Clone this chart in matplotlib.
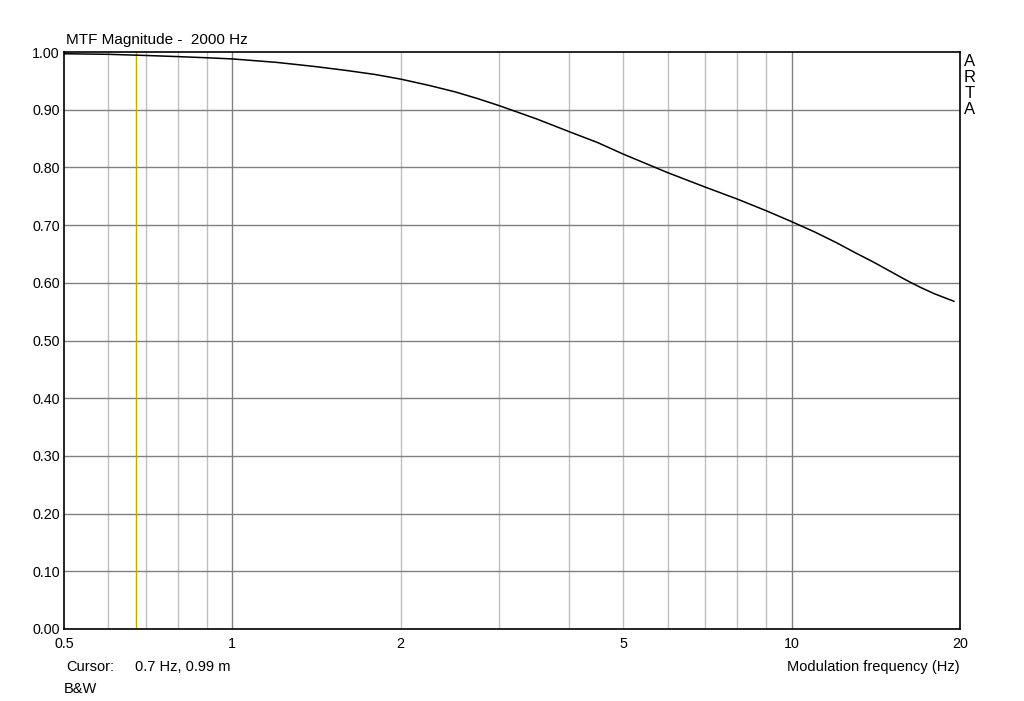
import matplotlib
matplotlib.use("Agg")
import matplotlib.pyplot as plt
from matplotlib.ticker import FixedLocator, NullFormatter, NullLocator

plt.rcParams['font.family'] = ['Liberation Sans', 'DejaVu Sans']

freq = [0.5, 0.6, 0.7, 0.8, 0.9, 1.0, 1.2, 1.4, 1.6, 1.8, 2.0, 2.25, 2.5, 2.75,
        3.0, 3.5, 4.0, 4.5, 5, 6, 7, 8, 9, 10, 11, 12, 13, 14, 15, 16, 17, 18, 19.5]
mtf = [0.997, 0.996, 0.994, 0.992, 0.990, 0.988, 0.982, 0.975, 0.968, 0.961,
       0.953, 0.942, 0.931, 0.919, 0.907, 0.884, 0.862, 0.843, 0.823, 0.791,
       0.766, 0.745, 0.725, 0.706, 0.688, 0.670, 0.652, 0.636, 0.620, 0.605,
       0.592, 0.581, 0.568]
cursor_f = 0.673
y_ticks = [0.0, 0.1, 0.2, 0.3, 0.4, 0.5, 0.6, 0.7, 0.8, 0.9, 1.0]
x_labels = {0.5: "0.5", 1: "1", 2: "2", 5: "5", 10: "10", 20: "20"}
minor_grid = [0.6, 0.7, 0.8, 0.9, 2, 3, 4, 5, 6, 7, 8, 9]
major_grid = [1, 10]

W, H = 1024, 701
fig = plt.figure(figsize=(W / 100, H / 100), dpi=100)
L, R, T, B = 64, 960, 52, 629
ax = fig.add_axes([L / W, 1 - B / H, (R - L) / W, (B - T) / H])
ax.set_xscale('log')
ax.set_xlim(0.5, 20)
ax.set_ylim(0, 1)

for g in minor_grid:
    ax.axvline(g, color='#c0c0c0', lw=1, zorder=1)
for g in major_grid:
    ax.axvline(g, color='#808080', lw=1, zorder=1)
for yv in y_ticks[1:-1]:
    ax.axhline(yv, color='#808080', lw=1, zorder=1)
ax.axvline(cursor_f, color='#c0ac00', lw=1, zorder=2)

ax.plot(freq, mtf, color='black', lw=1.1, zorder=3)

ax.xaxis.set_major_locator(FixedLocator(list(x_labels.keys())))
ax.set_xticklabels(list(x_labels.values()))
ax.xaxis.set_minor_locator(NullLocator())
ax.xaxis.set_minor_formatter(NullFormatter())
ax.set_yticks(y_ticks)
ax.set_yticklabels([f"{v:.2f}" for v in y_ticks])
ax.tick_params(axis='both', length=0, labelsize=10.3, pad=3)
ax.tick_params(axis='x', pad=6)
for s in ax.spines.values():
    s.set_color('black')
    s.set_linewidth(1.2)

fig.text(66 / W, 1 - 40 / H, "MTF Magnitude -  2000 Hz", fontsize=11, va='center', ha='left')
fig.text(66 / W, 1 - 667 / H, "Cursor:", fontsize=10.5, va='center', ha='left')
fig.text(135 / W, 1 - 667 / H, "0.7 Hz, 0.99 m", fontsize=10.5, va='center', ha='left')
fig.text(64 / W, 1 - 689 / H, "B&W", fontsize=10.5, va='center', ha='left')
fig.text(960 / W, 1 - 667 / H, "Modulation frequency (Hz)", fontsize=10.5, va='center', ha='right')
for i, ch in enumerate("ARTA"):
    fig.text(970 / W, 1 - (61 + i * 16) / H, ch, fontsize=12, va='center', ha='center')

fig.savefig("out.png", dpi=100)
